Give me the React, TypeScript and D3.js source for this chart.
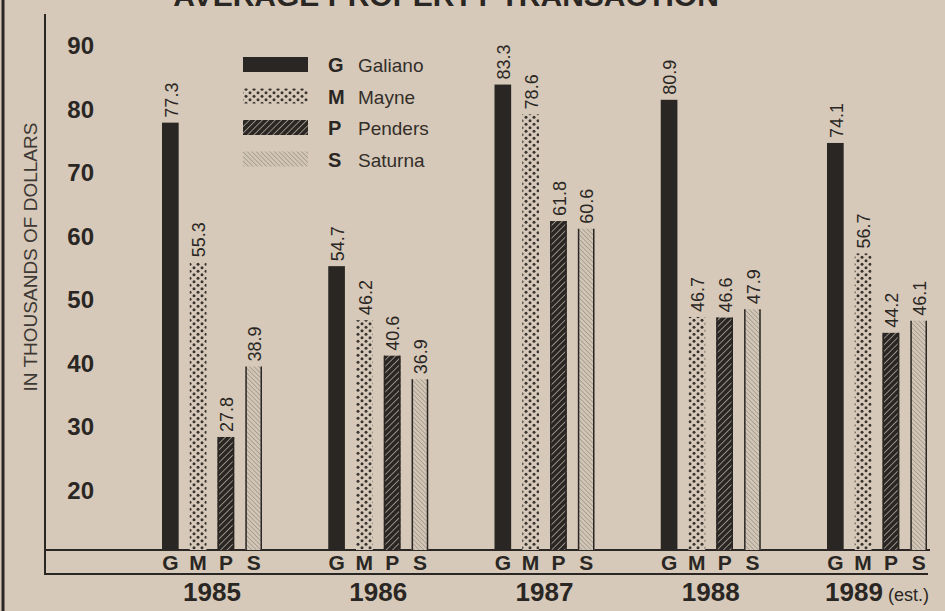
import React from 'react'
import * as d3 from 'd3'

const years = ['1985', '1986', '1987', '1988', '1989']
const seriesKeys = ['G', 'M', 'P', 'S']
const seriesNames = ['Galiano', 'Mayne', 'Penders', 'Saturna']
const galiano = [77.3, 54.7, 83.3, 80.9, 74.1]
const mayne = [55.3, 46.2, 78.6, 46.7, 56.7]
const penders = [27.8, 40.6, 61.8, 46.6, 44.2]
const saturna = [38.9, 36.9, 60.6, 47.9, 46.1]
const yTicks = [20, 30, 40, 50, 60, 70, 80, 90]
const title = 'AVERAGE PROPERTY TRANSACTION'
const yLabel = 'IN THOUSANDS OF DOLLARS'

const W = 945
const H = 611
const bg = '#d6c9b9'
const ink = '#2a2623'
const font = "'Liberation Sans', Arial, sans-serif"

const values = [galiano, mayne, penders, saturna]
const fills = ['url(#solidG)', 'url(#dotsM)', 'url(#hatchP)', 'url(#hatchS)']

const App = () => {
  const baseY = 550
  const y = d3.scaleLinear().domain([10, 90]).range([baseY, 42])
  const x0 = d3.scaleBand().domain(years).range([162, 927]).paddingInner(0.3985)
  const x1 = d3.scaleBand().domain(seriesKeys).range([0, x0.bandwidth()]).paddingInner(0.4)
  const bw = x1.bandwidth()

  const bars = years.flatMap((yr, i) =>
    seriesKeys.map((k, s) => ({ yr, k, s, v: values[s][i], x: (x0(yr) ?? 0) + (x1(k) ?? 0) }))
  )

  return (
    <svg
      width={W}
      height={H}
      style={{ position: 'absolute', left: 0, top: 0, background: bg, fontFamily: font }}
    >
      <defs>
        <pattern id='solidG' width={4} height={4} patternUnits='userSpaceOnUse'>
          <rect width={4} height={4} fill={ink} />
        </pattern>
        <pattern id='dotsM' width={8} height={7} patternUnits='userSpaceOnUse'>
          <rect width={8} height={7} fill={bg} />
          <circle cx={2} cy={1.75} r={1.5} fill='#3a3430' />
          <circle cx={6} cy={5.25} r={1.5} fill='#3a3430' />
        </pattern>
        <pattern id='hatchP' width={4.5} height={4.5} patternUnits='userSpaceOnUse' patternTransform='rotate(45)'>
          <rect width={4.5} height={4.5} fill={ink} />
          <line x1={0} y1={0} x2={0} y2={4.5} stroke='#cbbfb0' strokeWidth={1.3} />
        </pattern>
        <pattern id='hatchS' width={3.2} height={3.2} patternUnits='userSpaceOnUse' patternTransform='rotate(-45)'>
          <rect width={3.2} height={3.2} fill='#d2c6b7' />
          <line x1={0} y1={0} x2={0} y2={3.2} stroke='#776d64' strokeWidth={0.8} />
        </pattern>
      </defs>

      {/* title, cut off at the top like the clipping */}
      <text x={446} y={6} textAnchor='middle' fontWeight='bold' fontSize={30} fill={ink}>
        {title}
      </text>

      {/* frame lines */}
      <line x1={3} x2={3} y1={0} y2={H} stroke={ink} strokeWidth={3} />
      <line x1={45} x2={45} y1={14} y2={575} stroke={ink} strokeWidth={2} />
      <line x1={45} x2={930} y1={baseY} y2={baseY} stroke={ink} strokeWidth={2} />
      <line x1={45} x2={928} y1={574} y2={574} stroke={ink} strokeWidth={2} />

      {/* y axis */}
      <text
        transform={`translate(30, 257) rotate(-90)`}
        textAnchor='middle'
        dy='0.35em'
        fontSize={19}
        fill='#3d3833'
      >
        {yLabel}
      </text>
      {yTicks.map(t => (
        <text key={t} x={94} y={y(t) + 4} dy='0.35em' textAnchor='end' fontWeight='bold' fontSize={24} fill={ink}>
          {t}
        </text>
      ))}

      {/* bars */}
      {bars.map(d => (
        <g key={d.yr + d.k}>
          <rect x={d.x} y={y(d.v)} width={bw} height={baseY - y(d.v)} fill={fills[d.s]} />
          {(d.s === 2 || d.s === 3) && (
            <>
              <line x1={d.x + 0.75} x2={d.x + 0.75} y1={y(d.v)} y2={baseY} stroke={ink} strokeWidth={1.5} />
              <line x1={d.x + bw - 0.75} x2={d.x + bw - 0.75} y1={y(d.v)} y2={baseY} stroke={ink} strokeWidth={1.5} />
            </>
          )}
          <text
            transform={`translate(${d.x + bw / 2 + 1}, ${y(d.v) - 5}) rotate(-90)`}
            dy='0.35em'
            fontSize={18}
            fill={ink}
          >
            {d.v.toFixed(1)}
          </text>
          <text
            x={d.x + bw / 2}
            y={570}
            textAnchor='middle'
            fontWeight='bold'
            fontSize={21}
            fill={ink}
          >
            {d.k}
          </text>
        </g>
      ))}

      {/* year labels */}
      {years.map((yr, i) => (
        <text
          key={yr}
          x={(x0(yr) ?? 0) + x0.bandwidth() / 2}
          y={601}
          textAnchor='middle'
          fontWeight='bold'
          fontSize={26}
          fill={ink}
        >
          {yr}
          {i === years.length - 1 && (
            <tspan fontWeight='normal' fontSize={18}>
              {' (est.)'}
            </tspan>
          )}
        </text>
      ))}

      {/* legend */}
      {seriesKeys.map((k, s) => {
        const ry = 57 + s * 31.5
        return (
          <g key={k}>
            <rect x={243} y={ry} width={65} height={15} fill={fills[s]} />
            <text x={328} y={ry + 15} fontWeight='bold' fontSize={20} fill={ink}>
              {k}
            </text>
            <text x={358} y={ry + 15} fontSize={19} fill='#332e2a'>
              {seriesNames[s]}
            </text>
          </g>
        )
      })}
    </svg>
  )
}

export default App
